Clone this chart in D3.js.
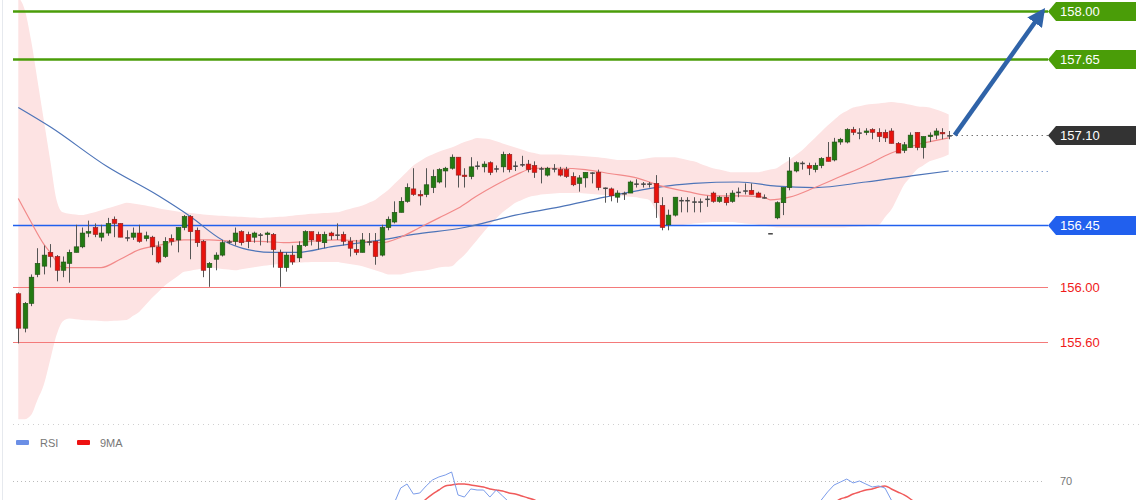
<!DOCTYPE html>
<html lang="en">
<head>
  <meta charset="UTF-8">
  <title>USDJPY levels</title>
  <script src="https://d3js.org/d3.v7.min.js"></script>
  <style>
    body { margin: 0; padding: 0; background: #fff; font-family: "Liberation Sans", Arial, sans-serif; }
    svg { display: block; }
    .wick { stroke: #555; stroke-width: 1; }
    .tag-text { font-size: 13px; fill: #fff; }
    .lvl-text { font-size: 13px; fill: #f01a1a; }
    .legend { font-size: 11px; fill: #777; }
  </style>
</head>
<body>
  <svg id="chart"></svg>

  <script>
    // candles: [open, high, low, close]
    const ohlc = [
      [155.95,155.96,155.59,155.70],[155.70,155.89,155.67,155.88],[155.88,156.09,155.86,156.07],[156.09,156.28,156.07,156.17],
      [156.15,156.30,156.09,156.23],[156.25,156.31,156.14,156.22],[156.22,156.23,156.04,156.12],[156.12,156.22,156.07,156.18],
      [156.17,156.27,156.03,156.25],[156.25,156.45,156.25,156.29],[156.29,156.43,156.28,156.39],[156.39,156.48,156.36,156.40],
      [156.43,156.46,156.36,156.38],[156.36,156.45,156.33,156.39],[156.39,156.50,156.37,156.46],[156.49,156.51,156.36,156.46],
      [156.46,156.46,156.36,156.36],[156.36,156.41,156.33,156.36],[156.36,156.43,156.34,156.39],[156.39,156.45,156.32,156.33],
      [156.35,156.40,156.33,156.37],[156.36,156.37,156.23,156.29],[156.29,156.33,156.17,156.18],[156.22,156.36,156.21,156.33],
      [156.35,156.38,156.30,156.33],[156.34,156.43,156.25,156.43],[156.43,156.52,156.41,156.51],[156.51,156.52,156.20,156.40],
      [156.41,156.43,156.29,156.32],[156.33,156.34,156.07,156.12],[156.14,156.18,156.00,156.17],[156.20,156.25,156.12,156.23],
      [156.23,156.34,156.22,156.32],[156.33,156.34,156.31,156.33],[156.33,156.43,156.30,156.39],[156.40,156.41,156.30,156.32],
      [156.38,156.40,156.28,156.33],[156.36,156.40,156.32,156.39],[156.38,156.39,156.30,156.38],[156.38,156.40,156.32,156.39],
      [156.38,156.39,156.14,156.27],[156.25,156.27,156.00,156.14],[156.14,156.25,156.11,156.23],[156.23,156.30,156.16,156.18],
      [156.21,156.33,156.18,156.30],[156.30,156.41,156.29,156.40],[156.40,156.40,156.30,156.34],[156.38,156.40,156.27,156.33],
      [156.32,156.40,156.28,156.38],[156.39,156.40,156.34,156.37],[156.38,156.46,156.34,156.38],[156.38,156.40,156.30,156.33],
      [156.33,156.36,156.22,156.28],[156.27,156.34,156.23,156.25],[156.25,156.39,156.25,156.34],[156.33,156.39,156.30,156.33],
      [156.33,156.39,156.16,156.22],[156.23,156.45,156.22,156.43],[156.43,156.51,156.41,156.49],[156.47,156.62,156.46,156.54],
      [156.54,156.65,156.54,156.62],[156.62,156.75,156.61,156.72],[156.71,156.86,156.66,156.67],[156.67,156.70,156.59,156.66],
      [156.67,156.86,156.65,156.74],[156.72,156.85,156.68,156.80],[156.76,156.86,156.75,156.85],[156.84,156.87,156.72,156.86],
      [156.86,156.96,156.85,156.94],[156.94,156.94,156.72,156.81],[156.81,156.86,156.72,156.80],[156.80,156.94,156.78,156.87],
      [156.88,156.91,156.85,156.88],[156.87,156.91,156.83,156.89],[156.90,156.91,156.81,156.83],[156.86,156.88,156.83,156.86],
      [156.87,156.98,156.83,156.96],[156.96,156.97,156.83,156.85],[156.88,156.91,156.84,156.88],[156.89,156.95,156.87,156.89],
      [156.89,156.92,156.83,156.85],[156.88,156.91,156.79,156.83],[156.86,156.87,156.75,156.86],[156.81,156.87,156.80,156.86],
      [156.86,156.89,156.83,156.86],[156.85,156.87,156.80,156.81],[156.85,156.87,156.79,156.80],[156.80,156.83,156.73,156.74],
      [156.75,156.81,156.69,156.79],[156.79,156.83,156.72,156.83],[156.83,156.83,156.75,156.83],[156.83,156.85,156.70,156.72],
      [156.72,156.72,156.61,156.72],[156.71,156.72,156.62,156.66],[156.65,156.70,156.61,156.68],[156.68,156.69,156.63,156.68],
      [156.68,156.77,156.68,156.76],[156.75,156.78,156.72,156.75],[156.75,156.76,156.72,156.75],[156.75,156.76,156.72,156.75],
      [156.75,156.81,156.50,156.61],[156.59,156.65,156.41,156.43],[156.45,156.56,156.41,156.52],[156.52,156.65,156.51,156.65],
      [156.63,156.65,156.54,156.63],[156.63,156.65,156.54,156.63],[156.62,156.65,156.54,156.62],[156.62,156.64,156.54,156.62],
      [156.64,156.66,156.58,156.64],[156.68,156.69,156.61,156.62],[156.62,156.66,156.61,156.65],[156.65,156.68,156.59,156.61],
      [156.62,156.70,156.61,156.68],[156.69,156.72,156.65,156.69],[156.70,156.75,156.67,156.70],[156.70,156.75,156.67,156.67],
      [156.68,156.69,156.65,156.65],[156.65,156.67,156.64,156.65],[156.39,156.39,156.39,156.39],[156.50,156.62,156.49,156.61],
      [156.61,156.72,156.52,156.72],[156.72,156.94,156.70,156.84],[156.84,156.91,156.83,156.90],[156.90,156.91,156.85,156.90],
      [156.88,156.90,156.81,156.86],[156.85,156.90,156.83,156.88],[156.88,156.94,156.86,156.93],[156.94,157.05,156.91,156.91],
      [156.92,157.08,156.91,157.05],[157.05,157.08,157.03,157.07],[157.05,157.15,157.04,157.14],[157.14,157.16,157.10,157.12],
      [157.12,157.15,157.07,157.12],[157.12,157.15,157.10,157.13],[157.14,157.15,157.07,157.12],[157.12,157.15,157.05,157.09],
      [157.12,157.14,157.05,157.08],[157.13,157.15,157.04,157.04],[157.04,157.05,156.97,156.97],[156.99,157.05,156.97,157.03],
      [157.01,157.12,157.01,157.10],[157.12,157.12,156.99,157.01],[157.01,157.09,156.93,157.09],[157.09,157.12,157.05,157.10],
      [157.10,157.15,157.07,157.13],[157.12,157.15,157.07,157.11],[157.10,157.13,157.07,157.10]
    ];

    // bollinger bands and moving averages: [candle index, price]
    const bbUpper = [[0,158.10],[1,158.01],[2,157.79],[3,157.50],[4,157.21],[5,156.92],[6,156.63],[7,156.54],[8,156.53],
      [10,156.52],[12,156.54],[14,156.57],[17,156.61],[20,156.59],[23,156.56],[26,156.54],[30,156.52],[34,156.51],
      [38,156.50],[42,156.51],[46,156.53],[50,156.54],[54,156.59],[56,156.63],[58,156.70],[60,156.79],[62,156.88],
      [64,156.94],[66,156.98],[68,157.01],[70,157.05],[72,157.08],[74,157.07],[76,157.04],[78,157.01],[80,156.98],
      [82,156.96],[85,156.96],[88,156.95],[91,156.94],[94,156.92],[97,156.92],[100,156.94],[103,156.94],[106,156.91],
      [109,156.86],[112,156.83],[116,156.83],[119,156.86],[121,156.92],[123,156.99],[125,157.08],[127,157.17],
      [129,157.25],[131,157.30],[133,157.32],[135,157.33],[137,157.34],[139,157.33],[141,157.31],[143,157.30],
      [145,157.27],[146,157.25]];
    const bbLower = [[0,155.04],[1,155.04],[2,155.07],[3,155.18],[4,155.29],[5,155.47],[6,155.65],[7,155.75],[8,155.77],
      [10,155.76],[14,155.75],[17,155.76],[19,155.82],[21,155.92],[23,156.01],[26,156.11],[30,156.14],[34,156.12],
      [38,156.15],[42,156.17],[46,156.18],[50,156.18],[54,156.15],[56,156.12],[58,156.09],[60,156.09],[62,156.11],
      [64,156.12],[66,156.14],[68,156.15],[70,156.23],[72,156.34],[74,156.45],[76,156.54],[78,156.61],[80,156.65],
      [82,156.67],[85,156.68],[88,156.68],[91,156.67],[94,156.66],[97,156.65],[99,156.63],[100,156.56],[101,156.47],
      [103,156.44],[106,156.46],[109,156.47],[112,156.47],[116,156.45],[119,156.43],[121,156.43],[125,156.43],
      [129,156.43],[133,156.44],[135,156.45],[137,156.56],[139,156.74],[141,156.85],[143,156.91],[145,156.94],[146,156.96]];
    const ma20 = [[0,156.64],[2,156.47],[4,156.31],[5,156.25],[7,156.14],[10,156.14],[13,156.14],[16,156.20],[19,156.27],
      [22,156.30],[26,156.34],[30,156.34],[34,156.33],[38,156.33],[42,156.32],[46,156.33],[50,156.34],[54,156.33],
      [57,156.32],[60,156.36],[63,156.43],[66,156.50],[69,156.57],[72,156.66],[75,156.74],[78,156.81],[81,156.86],
      [85,156.86],[89,156.85],[93,156.82],[97,156.79],[101,156.73],[105,156.69],[109,156.66],[113,156.66],[117,156.65],
      [118,156.63],[121,156.65],[125,156.72],[129,156.80],[133,156.88],[137,156.97],[141,157.03],[146,157.08]];
    const ma100 = [[0,157.30],[5,157.16],[14,156.87],[22,156.66],[27,156.51],[32,156.34],[36,156.27],[40,156.25],
      [44,156.25],[49,156.29],[57,156.34],[62,156.38],[70,156.43],[78,156.52],[85,156.58],[92,156.65],[100,156.72],
      [106,156.75],[113,156.76],[119,156.73],[125,156.72],[133,156.76],[141,156.81],[146,156.84]];

    // RSI panel (only the top part is visible)
    const rsi = [
      [[59,55.3],[60,65.3],[61,68],[62,61.3],[63,62],[64,66.7],[65,70.7],[66,72.7],[67,74],[68,76],[69,60.7],[70,59.3],
       [71,64.7],[72,64],[73,64],[74,59.3],[75,64],[76,60],[77,56],[78,52]],
      [[125,53.3],[126,57.3],[127,62.7],[128,67.3],[129,69.3],[130,71.3],[131,68.7],[132,70],[133,68],[134,66],
       [135,66.7],[136,65.3],[137,57.3],[138,52]]
    ];
    const rsiMa = [
      [[63,54],[64,58],[65,61.3],[66,64],[67,66.7],[68,67.3],[69,68],[70,68],[71,67.3],[72,66.7],[73,66],[74,64.7],
       [75,64],[76,63.3],[77,62],[78,61.3],[79,60],[80,58.7],[81,57.3],[82,54.7]],
      [[128,55.3],[129,58],[130,59.3],[131,61.3],[132,62.7],[133,64],[134,64.7],[135,66],[136,66.7],[137,64.7],
       [138,62.7],[139,60.7],[140,58],[141,54.7]]
    ];

    const levels = [158.00, 157.65, 157.10, 156.45, 156.00, 155.60];
    const levelLabels = ['158.00', '157.65', '157.10', '156.45', '156.00', '155.60'];
    const rsiLevel = 70;

    const width = 1140, height = 500;
    const svg = d3.select('#chart').attr('width', width).attr('height', height);

    const x = d3.scaleLinear().domain([0, ohlc.length - 1]).range([18.3, 948.7]);
    const y = d3.scaleLinear().domain([155.6, 158.0]).range([342, 11]);
    const yr = d3.scaleLinear().domain([50, 70]).range([511, 481]);

    const lineEnd = 1048;
    const styleFor = {
      '158.00': { kind: 'tag', color: '#4a9d08', w: 2.5 },
      '157.65': { kind: 'tag', color: '#4a9d08', w: 2.5 },
      '157.10': { kind: 'tag', color: '#333333', w: 0 },
      '156.45': { kind: 'tag', color: '#2160ee', w: 1.5 },
      '156.00': { kind: 'text', color: '#f47a7a', w: 1 },
      '155.60': { kind: 'text', color: '#f47a7a', w: 1 }
    };

    // frame bits
    svg.append('line').attr('x1', 2.5).attr('x2', 2.5).attr('y1', 0).attr('y2', 500)
      .attr('stroke', '#e6e9ee').attr('stroke-width', 1);
    svg.append('line').attr('x1', 13).attr('x2', 1140).attr('y1', 424.5).attr('y2', 424.5)
      .attr('stroke', '#d0d0d0').attr('stroke-dasharray', '1,4');

    // bollinger band
    const bandData = bbUpper.map((u, k) => u);
    const lowerFn = d3.scaleLinear().domain(bbLower.map(d => d[0])).range(bbLower.map(d => d[1]));
    const upperFn = d3.scaleLinear().domain(bbUpper.map(d => d[0])).range(bbUpper.map(d => d[1]));
    const bandIdx = d3.range(0, ohlc.length);
    const area = d3.area()
      .x(i => x(i)).y0(i => y(lowerFn(i))).y1(i => y(upperFn(i)))
      .curve(d3.curveMonotoneX);
    svg.append('path').datum(bandIdx).attr('d', area).attr('fill', '#fde3e3');

    // level lines
    levels.forEach((v, k) => {
      const st = styleFor[levelLabels[k]];
      const yy = Math.round(y(v)) + 0.5;
      if (st.w > 0) {
        svg.append('line').attr('x1', 13).attr('x2', lineEnd).attr('y1', yy).attr('y2', yy)
          .attr('stroke', st.color).attr('stroke-width', st.w);
      }
    });

    // moving averages
    const line = d3.line().x(d => x(d[0])).y(d => y(d[1])).curve(d3.curveMonotoneX);
    svg.append('path').datum(ma100).attr('d', line).attr('fill', 'none')
      .attr('stroke', '#4d74b8').attr('stroke-width', 1.2);
    svg.append('path').datum(ma20).attr('d', line).attr('fill', 'none')
      .attr('stroke', '#f28a8a').attr('stroke-width', 1.2);

    // dotted extensions to the labels
    const lastMa = ma100[ma100.length - 1][1];
    svg.append('line').attr('x1', x(ohlc.length - 1) + 3).attr('x2', lineEnd)
      .attr('y1', Math.round(y(lastMa)) + 0.5).attr('y2', Math.round(y(lastMa)) + 0.5)
      .attr('stroke', '#4d74b8').attr('stroke-dasharray', '1,4');
    svg.append('line').attr('x1', x(ohlc.length - 1) + 3).attr('x2', lineEnd)
      .attr('y1', Math.round(y(levels[2])) + 0.5).attr('y2', Math.round(y(levels[2])) + 0.5)
      .attr('stroke', '#333').attr('stroke-dasharray', '1,4');

    // candles
    const bw = 4.6;
    const candle = svg.append('g').selectAll('g').data(ohlc).enter().append('g');
    candle.append('line').attr('class', 'wick')
      .attr('x1', (d, i) => Math.round(x(i)) + 0.5).attr('x2', (d, i) => Math.round(x(i)) + 0.5)
      .attr('y1', d => y(d[1])).attr('y2', d => y(d[2]))
      .attr('stroke-opacity', d => d[1] === d[2] ? 0 : 1);
    candle.append('rect')
      .attr('x', (d, i) => Math.round(x(i)) + 0.5 - bw / 2)
      .attr('width', bw)
      .attr('y', d => y(Math.max(d[0], d[3])))
      .attr('height', d => Math.max(1.5, Math.abs(y(d[0]) - y(d[3]))))
      .attr('fill', d => d[3] > d[0] ? '#237a12' : (d[3] < d[0] ? '#e8120c' : '#444'))
      .attr('stroke', d => d[3] > d[0] ? '#1d4d12' : (d[3] < d[0] ? '#8a2020' : 'none'))
      .attr('stroke-width', 0.6);

    // target arrow
    const a0 = [x(ohlc.length - 1) + 6, y(levels[2])];
    const a1 = [1043, y(levels[0])];
    svg.append('defs').append('marker').attr('id', 'head')
      .attr('viewBox', '0 0 10 10').attr('refX', 8).attr('refY', 5)
      .attr('markerWidth', 4).attr('markerHeight', 4).attr('orient', 'auto')
      .append('path').attr('d', 'M0,0 L10,5 L0,10 Z').attr('fill', '#2f63a8');
    svg.append('line').attr('x1', a0[0]).attr('y1', a0[1]).attr('x2', a1[0]).attr('y2', a1[1])
      .attr('stroke', '#2f63a8').attr('stroke-width', 4.5).attr('marker-end', 'url(#head)');

    // labels
    levels.forEach((v, k) => {
      const st = styleFor[levelLabels[k]];
      const cy = Math.round(y(v)) + 0.5;
      if (st.kind === 'tag') {
        const h = 9.5;
        svg.append('path')
          .attr('d', `M${lineEnd},${cy} L${lineEnd + 8},${cy - h} L1136,${cy - h} L1136,${cy + h} L${lineEnd + 8},${cy + h} Z`)
          .attr('fill', st.color);
        svg.append('text').attr('class', 'tag-text').attr('x', 1060).attr('y', cy + 4.5).text(levelLabels[k]);
      } else {
        svg.append('text').attr('class', 'lvl-text').attr('x', 1060).attr('y', cy + 4.5).text(levelLabels[k]);
      }
    });

    // RSI legend
    svg.append('rect').attr('x', 16).attr('y', 440).attr('width', 13).attr('height', 5).attr('rx', 1).attr('fill', '#6b8fe6');
    svg.append('text').attr('class', 'legend').attr('x', 40).attr('y', 446.5).text('RSI');
    svg.append('rect').attr('x', 77).attr('y', 440).attr('width', 13).attr('height', 5).attr('rx', 1).attr('fill', '#ee1111');
    svg.append('text').attr('class', 'legend').attr('x', 100).attr('y', 446.5).text('9MA');

    // RSI panel
    svg.append('line').attr('x1', 13).attr('x2', 1044).attr('y1', yr(rsiLevel) + 0.5).attr('y2', yr(rsiLevel) + 0.5)
      .attr('stroke', '#bbb').attr('stroke-dasharray', '1,3');
    svg.append('text').attr('class', 'legend').attr('x', 1060).attr('y', yr(rsiLevel) + 4).attr('font-size', 12).text(String(rsiLevel));
    const rline = d3.line().x(d => x(d[0])).y(d => yr(d[1]));
    rsiMa.forEach(seg => svg.append('path').datum(seg).attr('d', rline.curve(d3.curveMonotoneX)).attr('fill', 'none')
      .attr('stroke', '#f05a5a').attr('stroke-width', 1.5));
    rsi.forEach(seg => svg.append('path').datum(seg).attr('d', rline.curve(d3.curveLinear)).attr('fill', 'none')
      .attr('stroke', '#7b9cea').attr('stroke-width', 1));
  </script>
</body>
</html>
